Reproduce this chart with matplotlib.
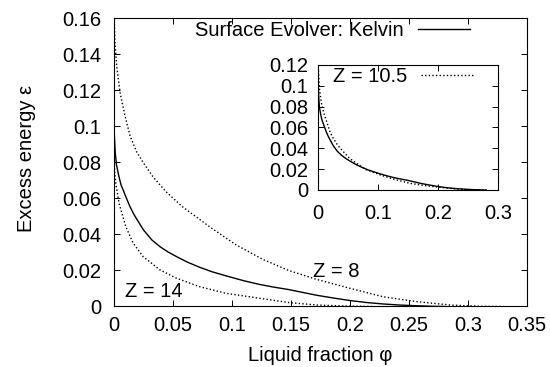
import matplotlib
matplotlib.use("Agg")
import matplotlib.pyplot as plt

plt.rcParams['font.family'] = ['Liberation Sans', 'DejaVu Sans']
plt.rcParams['font.size'] = 14.5

# values
kelvin_phi = [0, 0.001, 0.002, 0.0044, 0.006, 0.008, 0.010, 0.0135, 0.017, 0.0195, 0.025,
              0.032, 0.039, 0.046, 0.053, 0.062, 0.0725, 0.083, 0.095, 0.11, 0.123,
              0.135, 0.148, 0.16, 0.172, 0.186, 0.2, 0.214, 0.228, 0.242, 0.2565, 0.27, 0.28]
kelvin_eps = [0.099, 0.086, 0.079, 0.0715, 0.0675, 0.0643, 0.061, 0.0555, 0.051, 0.0483, 0.0425,
              0.037, 0.0332, 0.0302, 0.0277, 0.0247, 0.0218, 0.0193, 0.017, 0.0143, 0.0123,
              0.0108, 0.0094, 0.0078, 0.0062, 0.0047, 0.0033, 0.0022, 0.0014, 0.0008, 0.0004, 0.0001, 0.0]

z8_phi = [0, 0.0008, 0.0022, 0.0051, 0.0093, 0.0135, 0.0191, 0.0247, 0.0331, 0.0437, 0.058,
          0.081, 0.1035, 0.126, 0.148, 0.172, 0.2, 0.228, 0.2565, 0.285, 0.31, 0.33]
z8_eps = [0.163, 0.147, 0.134, 0.119, 0.106, 0.095, 0.086, 0.080, 0.072, 0.064, 0.0554,
          0.0443, 0.0342, 0.0262, 0.0200, 0.0150, 0.0101, 0.0054, 0.0027, 0.0008, 0.0001, 0.0]

z14_phi = [0, 0.0005, 0.0016, 0.0044, 0.010, 0.0163, 0.0247, 0.039, 0.053, 0.0725, 0.095,
           0.123, 0.148, 0.172, 0.2, 0.22]
z14_eps = [0.085, 0.075, 0.068, 0.057, 0.0443, 0.0351, 0.0277, 0.0203, 0.0157, 0.011, 0.0073,
           0.0046, 0.0022, 0.0008, 0.0002, 0.0]

z105_phi = [0, 0.002, 0.005, 0.009, 0.014, 0.02, 0.025, 0.033, 0.0417, 0.052, 0.064, 0.08,
            0.103, 0.128, 0.153, 0.178, 0.203, 0.225, 0.247, 0.26, 0.275]
z105_eps = [0.118, 0.097, 0.084, 0.074, 0.0656, 0.055, 0.0496, 0.0425, 0.0368, 0.0305, 0.0255, 0.0195,
            0.0145, 0.0100, 0.0064, 0.0042, 0.0026, 0.0013, 0.0004, 0.0001, 0.0]

main_xticks = [0, 0.05, 0.1, 0.15, 0.2, 0.25, 0.3, 0.35]
main_xlabels = ['0', '0.05', '0.1', '0.15', '0.2', '0.25', '0.3', '0.35']
main_yticks = [0, 0.02, 0.04, 0.06, 0.08, 0.1, 0.12, 0.14, 0.16]
main_ylabels = ['0', '0.02', '0.04', '0.06', '0.08', '0.1', '0.12', '0.14', '0.16']
inset_xticks = [0, 0.1, 0.2, 0.3]
inset_xlabels = ['0', '0.1', '0.2', '0.3']
inset_yticks = [0, 0.02, 0.04, 0.06, 0.08, 0.1, 0.12]
inset_ylabels = ['0', '0.02', '0.04', '0.06', '0.08', '0.1', '0.12']

dots = (0, (1, 1.6))

fig = plt.figure(figsize=(5.5, 3.67), dpi=100)
ax = fig.add_axes([0.2073, 0.1649, 0.7509, 0.7847])

ax.plot(kelvin_phi, kelvin_eps, color='black', lw=1.0, label='Surface Evolver: Kelvin')
ax.plot(z8_phi, z8_eps, color='black', lw=1.0, linestyle=dots)
ax.plot(z14_phi, z14_eps, color='black', lw=1.0, linestyle=dots)

ax.set_xlim(0, 0.35)
ax.set_ylim(0, 0.16)
ax.set_xticks(main_xticks, main_xlabels)
ax.set_yticks(main_yticks, main_ylabels)
ax.tick_params(direction='in', top=True, right=True, length=4.5, width=0.7)
ax.tick_params(axis='y', pad=9)
ax.tick_params(axis='x', pad=7)
for s in ax.spines.values():
    s.set_linewidth(0.8)

ax.set_xlabel('Liquid fraction φ', labelpad=8)
ax.set_ylabel('Excess energy ε')
ax.yaxis.set_label_coords(-0.19, 0.515)

ax.text(0.0093, 0.0082, 'Z = 14', va='center', ha='left')
ax.text(0.169, 0.0193, 'Z = 8', va='center', ha='left')

ax.legend(loc='upper right', bbox_to_anchor=(0.862, 0.99), frameon=False, markerfirst=False,
          handlelength=2.6, handletextpad=0.7, borderpad=0, borderaxespad=0)

# inset
ins = fig.add_axes([0.5787, 0.4823, 0.3273, 0.3406])
ins.plot(kelvin_phi, kelvin_eps, color='black', lw=1.0)
ins.plot(z105_phi, z105_eps, color='black', lw=1.0, linestyle=dots, label='Z = 10.5')
ins.set_xlim(0, 0.3)
ins.set_ylim(0, 0.12)
ins.set_xticks(inset_xticks, inset_xlabels)
ins.set_yticks(inset_yticks, inset_ylabels)
ins.tick_params(direction='in', top=True, right=True, length=4.5, width=0.7)
ins.tick_params(axis='y', pad=7)
ins.tick_params(axis='x', pad=10)
for s in ins.spines.values():
    s.set_linewidth(0.8)
ins.legend(loc='upper right', bbox_to_anchor=(0.861, 0.98), frameon=False, markerfirst=False,
           handlelength=2.6, handletextpad=0.7, borderpad=0, borderaxespad=0)

fig.savefig('out.png', dpi=100)
